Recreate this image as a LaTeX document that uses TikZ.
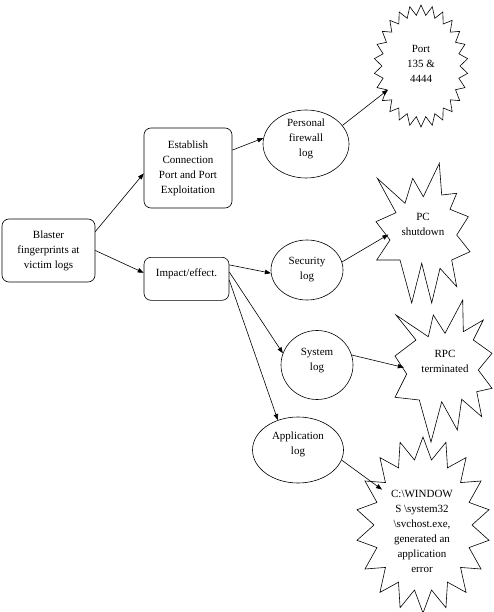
\documentclass[tikz,border=0pt]{standalone}
\usepackage{fontspec}
\setmainfont{Liberation Serif}
\usetikzlibrary{shapes.geometric,arrows.meta}
\begin{document}
\begin{tikzpicture}[x=1pt,y=-1pt, font=\fontsize{11}{15}\selectfont, line width=0.6pt,
  box/.style={draw, rounded corners=7pt, align=center, inner sep=0pt},
  logell/.style={draw, ellipse, align=center, inner sep=0pt},
  uptext/.style 2 args={label={[align=center, inner sep=0pt, yshift=#1]center:#2}},
  startext/.style={ellipse, align=center, inner sep=0pt},
  arr/.style={-{Triangle[length=6pt,width=4.5pt]}},
  burst/.style={draw, line join=miter}]
\useasboundingbox (0,0) rectangle (494,612);

% star outlines
\draw[burst] plot[samples at={0,...,51}] ({421+(43+4*cos(180*\x))*cos(90+6.923077*\x)}, {66+(56+5*cos(180*\x))*sin(90+6.923077*\x)}) -- cycle;
\draw[burst] (377.3,178.3) -- (396,212.7) -- (376,221.7) -- (390,240) -- (376.7,260) -- (400,260) -- (411.7,303) -- (421.7,263.3) -- (431.7,303) -- (440,268.3) -- (456.7,286.7) -- (451.7,260) -- (470,251.7) -- (456.7,235) -- (468.3,216.7) -- (450,209.3) -- (456.7,193.3) -- (441.7,195) -- (439.3,163.3) -- (423.3,196.7) -- (412.7,178.3) -- (405,203.3) -- cycle;
\draw[burst] (396,315) -- (416,340) -- (395,356) -- (406.7,374) -- (395,397.3) -- (419.3,400) -- (431,442) -- (441.7,401.7) -- (457.3,430) -- (461.7,399.3) -- (481.7,416.7) -- (476.7,391.7) -- (492,388.3) -- (478.3,370) -- (492,353.3) -- (473.3,340) -- (483.3,320) -- (463.3,331.7) -- (462.7,300) -- (445,333.3) -- (433.3,315) -- (428.3,336.7) -- cycle;
\draw[burst] plot[samples at={0,...,35}] ({423+(58+9*cos(180*\x))*cos(90+10*\x)}, {525+(77+11*cos(180*\x))*sin(90+10*\x)}) -- cycle;

% boxes
\node[box, minimum width=93pt, minimum height=63pt] (bl) at (48.5,250.5) {Blaster\\fingerprints at\\victim logs};
\node[box, minimum width=88pt, minimum height=80pt] (est) at (188,168) {Establish\\Connection\\Port and Port\\Exploitation};
\node[box, minimum width=85pt, anchor=north, inner ysep=5pt, text height=14pt, text depth=19pt] (imp) at (186.5,257) {Impact/effect.};

% ellipses
\node[logell, minimum width=86pt, minimum height=68pt, uptext={5pt}{Personal\\firewall\\log}] (pfw) at (306,144) {};
\node[logell, minimum width=72pt, minimum height=60pt] (sec) at (307,270) {Security\\log};
\node[logell, minimum width=72pt, minimum height=69pt, uptext={4pt}{System\\log}] (sys) at (317,365) {};
\node[logell, minimum width=91pt, minimum height=66pt, uptext={6pt}{Application\\log}] (app) at (298,450) {};

% star texts
\node[startext, minimum width=76pt, minimum height=100pt] (port) at (421,64) {Port\\135 \&\\4444};
\node[startext, minimum width=74pt, minimum height=56pt] (pc) at (423,224) {PC\\shutdown};
\node[startext, minimum width=84pt, minimum height=56pt] (rpc) at (445,361) {RPC\\terminated};
\node[startext, minimum width=100pt, minimum height=136pt] (win) at (422,531) {C:\textbackslash WINDOW\\S \textbackslash system32\\\textbackslash svchost.exe,\\generated an\\application\\error};

% connectors
\draw[arr] (bl.22) -- (est.187);
\draw[arr] (bl.east) -- (imp.172);
\draw[arr] (est.22) -- (pfw.172);
\draw[arr] (pfw.27) -- (port.218);
\draw[arr] (imp.18) -- (sec.185);
\draw[arr] (sec.13) -- (pc.197);
\draw[arr] (imp.9) -- (sys.161);
\draw[arr] (imp.-2) -- (app.124);
\draw[arr] (sys.16) -- (rpc.189);
\draw[arr] (app.-13) -- (win.134);
\end{tikzpicture}
\end{document}
